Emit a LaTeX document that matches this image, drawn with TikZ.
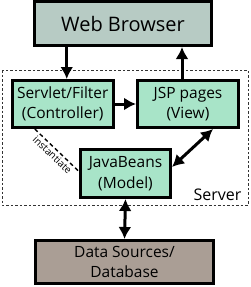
\documentclass[tikz,border=0pt]{standalone}
\usepackage{fontspec}
\setmainfont{Open Sans}
\usetikzlibrary{arrows.meta}
\definecolor{browsercol}{HTML}{B7CBC4}
\definecolor{greencol}{HTML}{A8E4C8}
\definecolor{dbcol}{HTML}{AA9E95}
\tikzset{
  box/.style={draw=black, line width=3pt, align=center, inner sep=0pt,
    font=\fontsize{15.5}{20.5}\selectfont},
  greenbox/.style={box, fill=greencol},
  conn/.style={line width=3pt, -{Latex[length=12pt,width=13pt]}},
  dconn/.style={line width=3pt, {Latex[length=12pt,width=13pt]}-{Latex[length=12pt,width=13pt]}},
  serverbox/.style={draw=black!80, line width=0.8pt, dash pattern=on 2.5pt off 2pt},
  instline/.style={draw=black, line width=1.4pt, dash pattern=on 4pt off 3pt},
}
\begin{document}
\begin{tikzpicture}[x=1pt,y=-1pt]
\useasboundingbox (0,0) rectangle (250,287);
\draw[serverbox] (2,70) rectangle (248,205);
\node[box, fill=browsercol, minimum width=177pt, minimum height=44pt,
  font=\fontsize{20}{24}\selectfont] (browser) at (123,23.5) {Web Browser};
\node[greenbox, minimum width=100.5pt, minimum height=47pt] (servlet) at (62.75,104) {Servlet/Filter\\(Controller)};
\node[greenbox, minimum width=101pt, minimum height=47pt] (jsp) at (188,104) {JSP pages\\(View)};
\node[greenbox, minimum width=90pt, minimum height=48pt] (beans) at (125.5,173.5) {JavaBeans\\(Model)};
\node[box, fill=dbcol, minimum width=178pt, minimum height=43pt] (db) at (124.5,262) {Data Sources/\\Database};
\node[font=\fontsize{16}{19}\selectfont, anchor=base] (server) at (217.5,200) {Server};
\draw[conn] ([xshift=4pt]servlet.north |- browser.south) -- ([xshift=4pt]servlet.north);
\draw[conn] ([xshift=-6pt]jsp.north) -- ([xshift=-6pt]jsp.north |- browser.south);
\draw[conn] (servlet.east) -- (jsp.west);
\draw[dconn] ([xshift=25pt]jsp.south) -- ([yshift=6.5pt]beans.east);
\draw[dconn] (beans.south) -- (db.north);
\draw[instline] ([xshift=-28pt]servlet.south) -- node[sloped, below, font=\fontsize{10}{12}\selectfont, inner sep=2pt] (inst) {instantiate} ([yshift=2pt]beans.west);
\end{tikzpicture}
\end{document}
